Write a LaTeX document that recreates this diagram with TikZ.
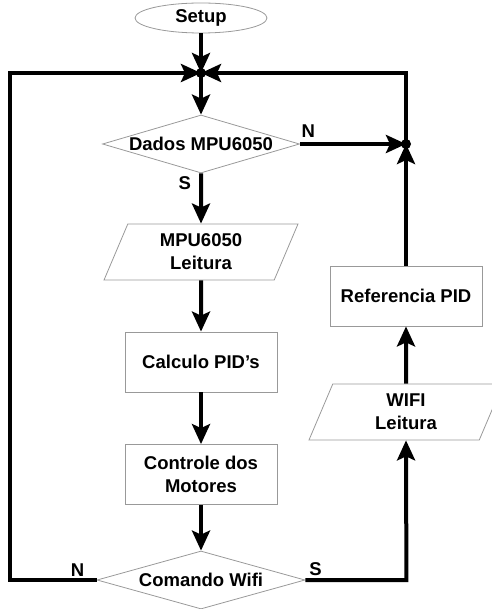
\documentclass[tikz,border=0pt]{standalone}
\usepackage{fontspec}
\setmainfont{Liberation Sans}
\usetikzlibrary{arrows.meta, shapes.geometric}

\begin{document}
\begin{tikzpicture}[
    x=1pt, y=-1pt, node distance=110pt,
    every node/.style={align=center, font=\fontsize{18.5}{23}\selectfont\bfseries},
    terminal/.style={draw=gray!80, line width=0.8pt, ellipse, minimum width=132pt, minimum height=30pt, inner sep=0pt},
    process/.style={draw=gray!80, line width=0.8pt, rectangle, minimum width=152pt, minimum height=60pt},
    io/.style={draw=gray!80, line width=0.8pt, trapezium, trapezium left angle=67, trapezium right angle=113, trapezium stretches body, minimum width=194pt, inner xsep=0pt, inner ysep=10pt},
    decision/.style={draw=gray!80, line width=0.8pt, diamond, aspect=3.5, inner xsep=-4pt, inner ysep=0pt, minimum height=58pt},
    flow/.style={line width=4pt, -{Stealth[length=20pt, width=18pt, inset=4pt]}},
    answer/.style={inner sep=2pt}
]
\useasboundingbox (0,0) rectangle (491,609);

\node (setup) [terminal] at (201,18) {Setup};
\coordinate[below of=setup, yshift=55pt] (join_top);
\node (dados_mpu) [decision, minimum width=197pt, below of=setup, yshift=-16pt] {Dados MPU6050};
\node (leitura_mpu) [io, below of=dados_mpu, yshift=2pt] {MPU6050\\ Leitura};
\node (calculo_pid) [process, below of=leitura_mpu] {Calculo PID's};
\node (controle_motores) [process, below of=calculo_pid, yshift=-2.5pt] {Controle dos\\ Motores};
\node (comando_wifi) [decision, minimum width=208pt, below of=controle_motores, yshift=4.5pt] {Comando Wifi};

\node (leitura_wifi) [io, right of=controle_motores, xshift=95pt, yshift=62.5pt] {WIFI\\ Leitura};
\node (referencia_pid) [process, above of=leitura_wifi, yshift=6pt] {Referencia PID};
\coordinate (join_right) at (referencia_pid |- dados_mpu);

% main line
\draw[flow] (setup) -- (join_top);
\draw[flow] (join_top) -- (dados_mpu.north);
\draw[flow] (dados_mpu.south) -- node[answer, pos=0.2, left, xshift=-6pt] {S} (leitura_mpu);
\draw[flow] (leitura_mpu) -- (calculo_pid);
\draw[flow] (calculo_pid) -- (controle_motores);
\draw[flow] (controle_motores) -- (comando_wifi.north);

% wifi branch
\draw[flow] (comando_wifi.east) -- node[answer, pos=0.1, above] {S} ++(101pt,0) -- (leitura_wifi.south);
\draw[flow] (leitura_wifi) -- (referencia_pid);
\draw[flow] (referencia_pid) -- (join_right);
\draw[flow] (dados_mpu.east) -- node[answer, pos=0.08, above, yshift=2pt] {N} (join_right);
\draw[flow] (join_right) |- (join_top);

% back to the start
\draw[flow] (comando_wifi.west) -- node[answer, pos=0.22, above] {N} ++(-87pt,0) |- (join_top);

\fill (join_top) circle (5pt);
\fill (join_right) circle (5pt);
\end{tikzpicture}
\end{document}
